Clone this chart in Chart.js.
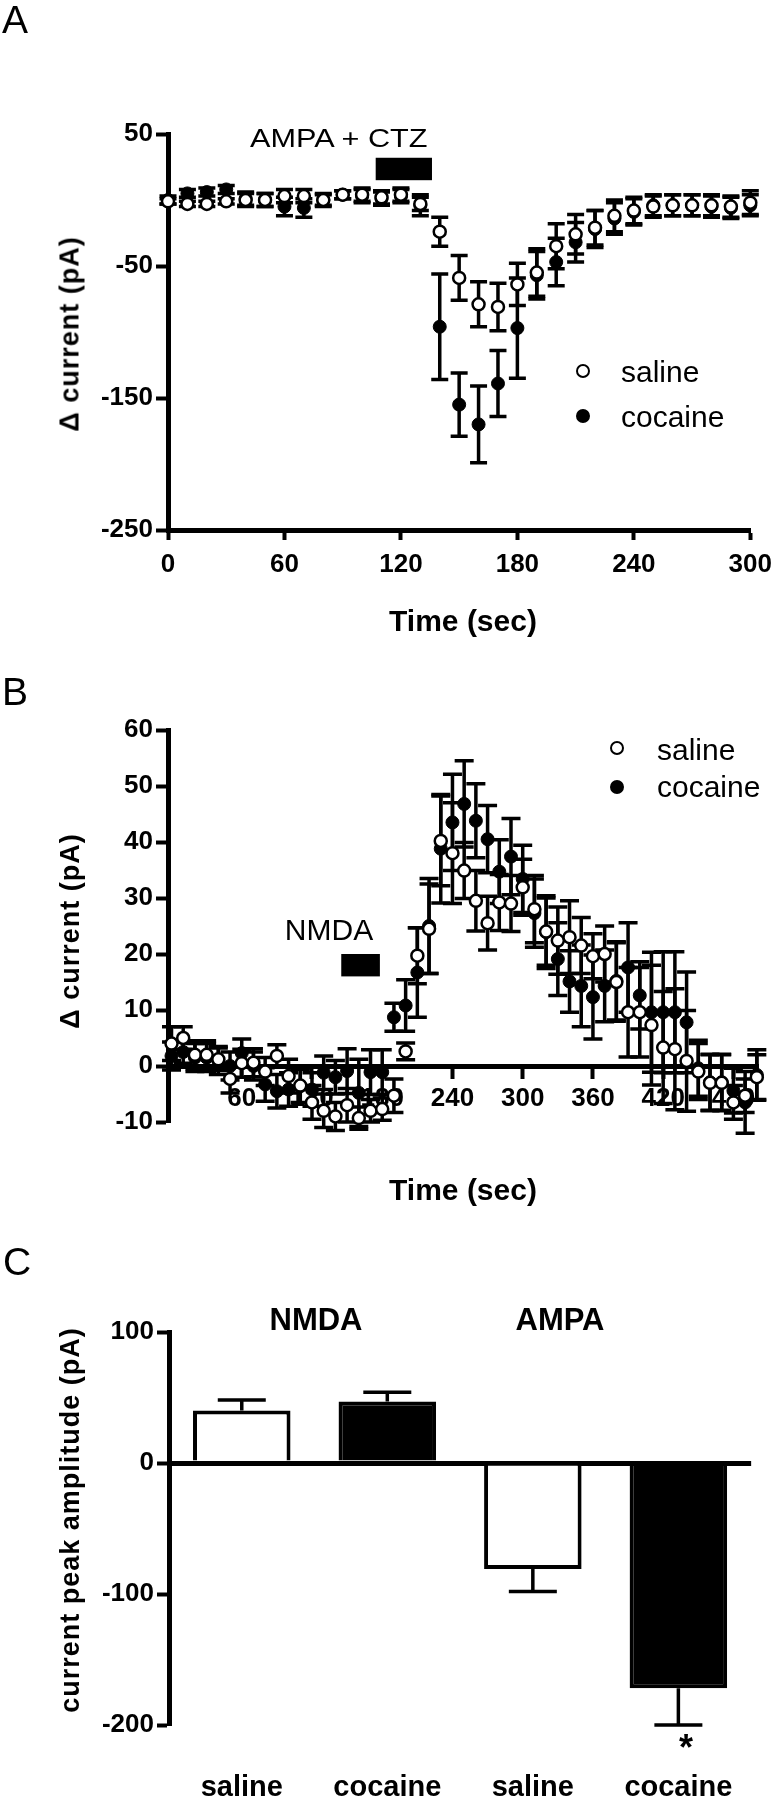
<!DOCTYPE html>
<html>
<head>
<meta charset="utf-8">
<script src="https://cdn.jsdelivr.net/npm/chart.js@4.4.1/dist/chart.umd.min.js"></script>
<style>
    body { margin: 0; background: #fff; }
    #fig { position: relative; width: 781px; height: 1800px; overflow: hidden; font-family: "Liberation Sans", Arial, sans-serif; color: #000; }
    canvas { position: absolute; left: 0; }
    .t { position: absolute; white-space: nowrap; line-height: 1; }
</style>
</head>
<body>
<div id="fig">
    <canvas id="chartA" width="781" height="650" style="top:0px"></canvas>
    <canvas id="chartB" width="781" height="560" style="top:650px"></canvas>
    <canvas id="chartC" width="781" height="590" style="top:1210px"></canvas>
</div>
<script>
// ---- panel A : AMPA + CTZ ----
const timeA = [0, 10, 20, 30, 40, 50, 60, 70, 80, 90, 100, 110, 120, 130, 140, 150, 160, 170, 180, 190, 200, 210, 220, 230, 240, 250, 260, 270, 280, 290, 300];
const salineA = [-1, -3, -3, -1, 0, 0, 3, 3, 0, 4, 4, 2, 4, -3, -24, -59, -79, -81, -64, -55, -35, -26, -21, -12, -8, -5, -4, -4, -4, -5, -2];
const salineAErr = [2, 2, 2, 2, 5, 5, 5, 5, 5, 3, 5, 5, 5, 5, 11, 17, 17, 18, 16, 18, 17, 15, 13, 12, 10, 8, 8, 8, 8, 8, 9];
const cocaineA = [0, 5, 6, 8, 1, 0, -5, -6, 0, 4, 3, 1, 3, -4, -96, -155, -170, -139, -97, -57, -47, -32, -22, -14, -9, -4, -4, -4, -5, -6, -4];
const cocaineAErr = [3, 3, 3, 3, 5, 5, 7, 7, 4, 3, 5, 5, 5, 8, 40, 24, 29, 25, 38, 18, 18, 15, 14, 12, 10, 8, 8, 8, 8, 8, 8];
const xTicksA = [0, 60, 120, 180, 240, 300];
const yTicksA = [50, -50, -150, -250];
const ampaBarTime = [107, 136];
const ampaBarLevel = [15, 32];

// ---- panel B : NMDA ----
const timeB = [0, 10, 20, 30, 40, 50, 60, 70, 80, 90, 100, 110, 120, 130, 140, 150, 160, 170, 180, 190, 200,
    210, 220, 230, 240, 250, 260, 270, 280, 290, 300, 310, 320, 330, 340, 350, 360, 370, 380, 390, 400,
    410, 420, 430, 440, 450, 460, 470, 480, 490, 500];
const salineB = [4, 5, 2, 2, 1.2, -2.3, 0.5, 0.6, -1, 1.8, -1.8, -3.5, -6.5, -8, -9, -7, -9.3, -8, -7.7, -5.3, 2.6,
    19.7, 24.5, 40.2, 38, 34.9, 29.5, 25.5, 29.2, 29, 31.9, 28, 24, 22.4, 23, 21.5, 19.6, 20, 15, 9.6, 9.6,
    7.3, 3.3, 3, 0.9, -1, -3, -3, -6.5, -5.3, -2];
const salineBErr = [3, 2, 2.5, 2.5, 2, 2.5, 2.5, 2.5, 2.5, 2, 3, 3, 3, 3, 2.5, 3, 2, 2, 2, 3, 1.5,
    5, 8, 8, 9, 5, 5.4, 4.8, 5, 5, 5, 6, 6, 6, 6.5, 5, 4, 5, 7, 8, 8,
    10.7, 10, 10.8, 9, 5, 5, 5, 3, 3, 4];
const cocaineB = [1.8, 2.5, 1.5, 1.5, 1, 0, 2.3, 0, -3.3, -4.5, -4.2, -3.6, -4.2, -1.2, -2, -0.9, -4.8, -1.1, -1.1, 8.7, 10.8,
    16.7, 25, 38.8, 43.5, 46.8, 43.8, 40.5, 34.7, 37.4, 33.4, 27.3, 23.9, 19.1, 15.1, 14.3, 12.3, 14.3, 15.2, 17.6, 12.6,
    9.6, 9.6, 9.6, 7.8, -0.4, -2.9, -2.9, -4.4, -6.5, -1.6];
const cocaineBErr = [2.5, 2, 2.5, 2.5, 2.5, 2.5, 2.5, 2.5, 3, 3, 3, 3, 3, 3, 3, 4, 6, 4, 4, 2.5, 4.6,
    8, 8.5, 9.7, 8.6, 7.7, 6.6, 6, 5.7, 6.8, 6, 6.1, 6.5, 6.5, 5.5, 7.3, 7.5, 6.4, 7, 8, 6,
    10.7, 10.8, 10.8, 9, 5, 5, 5, 4, 5.5, 4.5];
const xTicksB = [60, 120, 180, 240, 300, 360, 420, 480];
const nmdaBarTime = [145, 178];
const nmdaBarLevel = [16, 20];

// ---- panel C : peak amplitudes ----
const groupsC = ['saline', 'cocaine', 'saline', 'cocaine'];
const peakC = [40, 47, -81, -172];
const peakCErr = [8, 7, 17, 28];

const FONT = '"Liberation Sans", Arial, sans-serif';
Chart.defaults.font.family = FONT;
Chart.defaults.color = '#000';

const tickFont = { family: FONT, size: 26, weight: 'bold' };

// error bars, drawn from the data through the y scale
const drawErrors = (chart, o) => {
    const ctx = chart.ctx;
    const ys = chart.scales.y;
    ctx.save();
    ctx.strokeStyle = '#000';
    ctx.lineWidth = o.width;
    chart.data.datasets.forEach((ds, i) => {
        if (!ds.errors) return;
        chart.getDatasetMeta(i).data.forEach((el, j) => {
            const raw = ds.data[j];
            const v = typeof raw === 'object' ? raw.y : raw;
            const e = ds.errors[j];
            const far = o.oneSided ? v + Math.sign(v) * e : v + e;
            const near = o.oneSided ? v : v - e;
            const y1 = ys.getPixelForValue(near);
            const y2 = ys.getPixelForValue(far);
            ctx.beginPath();
            ctx.moveTo(el.x, y1);
            ctx.lineTo(el.x, y2);
            ctx.moveTo(el.x - o.cap / 2, y2);
            ctx.lineTo(el.x + o.cap / 2, y2);
            if (!o.oneSided) {
                ctx.moveTo(el.x - o.cap / 2, y1);
                ctx.lineTo(el.x + o.cap / 2, y1);
            }
            ctx.stroke();
        });
    });
    ctx.restore();
};

const errorBars = {
    id: 'errorBars',
    defaults: { cap: 16, width: 3, oneSided: false },
    beforeDatasetsDraw(chart, args, o) { if (!o.oneSided) drawErrors(chart, o); },
    afterDatasetsDraw(chart, args, o) { if (o.oneSided) drawErrors(chart, o); }
};

// black drug application bar
const stimBar = {
    id: 'stimBar',
    afterDatasetsDraw(chart, args, o) {
        if (!o.x) return;
        const xs = chart.scales.x, ys = chart.scales.y;
        const x1 = xs.getPixelForValue(o.x[0]), x2 = xs.getPixelForValue(o.x[1]);
        const y1 = ys.getPixelForValue(o.y[1]), y2 = ys.getPixelForValue(o.y[0]);
        chart.ctx.save();
        chart.ctx.fillStyle = '#000';
        chart.ctx.fillRect(x1, y1, x2 - x1, y2 - y1);
        chart.ctx.restore();
    }
};

const axisGrid = { display: true, drawOnChartArea: false, drawTicks: true, tickLength: 12, tickWidth: 4, tickColor: '#000' };
const axisBorder = { display: true, width: 5, color: '#000' };

const timeSeries = (times, vals, errs, label, filled) => ({
    label,
    data: times.map((t, i) => ({ x: t, y: vals[i] })),
    errors: errs,
    pointRadius: filled ? 6.5 : 6,
    pointBackgroundColor: filled ? '#000' : '#fff',
    pointBorderColor: '#000',
    pointBorderWidth: filled ? 1 : 2.5,
    clip: false
});

const common = {
    responsive: false,
    animation: false,
    events: [],
    devicePixelRatio: 1
};

// panel A
new Chart(document.getElementById('chartA'), {
    type: 'scatter',
    data: {
        datasets: [
            timeSeries(timeA, salineA, salineAErr, 'saline', false),
            timeSeries(timeA, cocaineA, cocaineAErr, 'cocaine', true)
        ]
    },
    options: {
        ...common,
        layout: { padding: { top: 134, right: 23, left: 0, bottom: 0 } },
        plugins: {
            legend: { display: false },
            tooltip: { enabled: false },
            errorBars: { cap: 17, width: 3.5 },
            stimBar: { x: ampaBarTime, y: ampaBarLevel }
        },
        scales: {
            x: {
                type: 'linear', min: 0, max: 300,
                afterBuildTicks: s => { s.ticks = xTicksA.map(v => ({ value: v })); },
                ticks: { font: tickFont, color: '#000', padding: 9 },
                grid: { ...axisGrid, tickLength: 10 },
                border: axisBorder,
                afterFit: s => { s.height = 120; }
            },
            y: {
                min: -250, max: 50,
                afterBuildTicks: s => { s.ticks = yTicksA.map(v => ({ value: v })); },
                ticks: { font: tickFont, color: '#000', padding: 3 },
                grid: axisGrid,
                border: axisBorder,
                afterFit: s => { s.width = 168; }
            }
        }
    },
    plugins: [errorBars, stimBar]
});

// panel B
new Chart(document.getElementById('chartB'), {
    type: 'scatter',
    data: {
        datasets: [
            timeSeries(timeB, salineB, salineBErr, 'saline', false),
            timeSeries(timeB, cocaineB, cocaineBErr, 'cocaine', true)
        ]
    },
    options: {
        ...common,
        layout: { padding: { top: 80, right: 23, left: 0, bottom: 88 } },
        plugins: {
            legend: { display: false },
            tooltip: { enabled: false },
            errorBars: { cap: 19, width: 3.5 },
            stimBar: { x: nmdaBarTime, y: nmdaBarLevel }
        },
        scales: {
            x: {
                type: 'linear', min: -3, max: 501,
                position: { y: 0 },
                afterBuildTicks: s => { s.ticks = xTicksB.map(v => ({ value: v })); },
                ticks: { font: tickFont, color: '#000', padding: 7 },
                grid: { ...axisGrid, tickLength: 10 },
                border: axisBorder,
                afterFit: s => { s.height = 0; }
            },
            y: {
                min: -10, max: 60,
                ticks: { font: tickFont, color: '#000', padding: 3, stepSize: 10 },
                grid: axisGrid,
                border: axisBorder,
                afterFit: s => { s.width = 168; }
            }
        }
    },
    plugins: [errorBars, stimBar]
});

// panel C
new Chart(document.getElementById('chartC'), {
    type: 'bar',
    data: {
        labels: groupsC,
        datasets: [{
            data: peakC,
            errors: peakCErr,
            backgroundColor: ['#fff', '#000', '#fff', '#000'],
            borderColor: '#000',
            borderWidth: 4,
            barPercentage: 0.67,
            categoryPercentage: 1
        }]
    },
    options: {
        ...common,
        layout: { padding: { top: 122, right: 21, left: 0, bottom: 0 } },
        plugins: {
            legend: { display: false },
            tooltip: { enabled: false },
            errorBars: { cap: 48, width: 3.5, oneSided: true }
        },
        scales: {
            x: {
                ticks: { font: { family: FONT, size: 29, weight: 'bold' }, color: '#000', padding: 46 },
                grid: { display: false, drawTicks: false },
                border: { display: false },
                afterFit: s => { s.height = 75; }
            },
            y: {
                min: -200, max: 100,
                z: 1,
                ticks: { font: tickFont, color: '#000', padding: 3, stepSize: 100 },
                grid: {
                    display: true,
                    drawOnChartArea: true,
                    color: c => c.tick && c.tick.value === 0 ? '#000' : 'rgba(0,0,0,0)',
                    lineWidth: c => c.tick && c.tick.value === 0 ? 5 : 1,
                    tickLength: 12, tickWidth: 4, tickColor: '#000'
                },
                border: axisBorder,
                afterFit: s => { s.width = 169; }
            }
        }
    },
    plugins: [errorBars]
});

// ---- texts ----
const fig = document.getElementById('fig');

const addText = (str, x, base, size, bold, align, extra) => {
    const d = document.createElement('div');
    d.className = 't';
    d.textContent = str;
    d.style.fontSize = size + 'px';
    d.style.fontWeight = bold ? 'bold' : 'normal';
    d.style.left = x + 'px';
    d.style.top = (base - 0.8465 * size) + 'px';
    if (align === 'center') d.style.transform = 'translateX(-50%)';
    if (extra) Object.assign(d.style, extra);
    fig.appendChild(d);
};

const addYTitle = (str, cx, cy) => {
    const d = document.createElement('div');
    d.className = 't';
    d.textContent = str;
    d.style.fontSize = '27px';
    d.style.fontWeight = 'bold';
    d.style.letterSpacing = '1px';
    d.style.left = cx + 'px';
    d.style.top = cy + 'px';
    d.style.transform = 'translate(-50%, -50%) rotate(-90deg)';
    fig.appendChild(d);
};

const addDot = (x, y, filled) => {
    const d = document.createElement('div');
    d.style.cssText = `position:absolute;left:${x - 7}px;top:${y - 7}px;width:14px;height:14px;box-sizing:border-box;border-radius:50%;border:2.5px solid #000;background:${filled ? '#000' : '#fff'}`;
    fig.appendChild(d);
};

// panel letters
addText('A', 2, 33, 39, false);
addText('B', 2, 705, 39, false);
addText('C', 3, 1275, 39, false);

// panel A
addText('AMPA + CTZ', 250, 147, 26, false, 'left', { transform: 'scaleX(1.18)', transformOrigin: 'left' });
addDot(583, 371, false);
addText('saline', 621, 382, 30, false);
addDot(583, 416, true);
addText('cocaine', 621, 427, 30, false);
addText('Time (sec)', 463, 631, 30, true, 'center');
addYTitle('\u0394 current (pA)', 70, 334);

// panel B
addText('NMDA', 329, 940, 30, false, 'center');
addDot(617, 748, false);
addText('saline', 657, 760, 30, false);
addDot(617, 787, true);
addText('cocaine', 657, 797, 30, false);
addText('Time (sec)', 463, 1200, 30, true, 'center');
addYTitle('\u0394 current (pA)', 70, 931);

// panel C
addText('NMDA', 316, 1330, 31, true, 'center');
addText('AMPA', 560, 1330, 31, true, 'center');
addText('*', 686, 1760, 36, true, 'center');
addYTitle('current peak amplitude (pA)', 70, 1520);
</script>
</body>
</html>
